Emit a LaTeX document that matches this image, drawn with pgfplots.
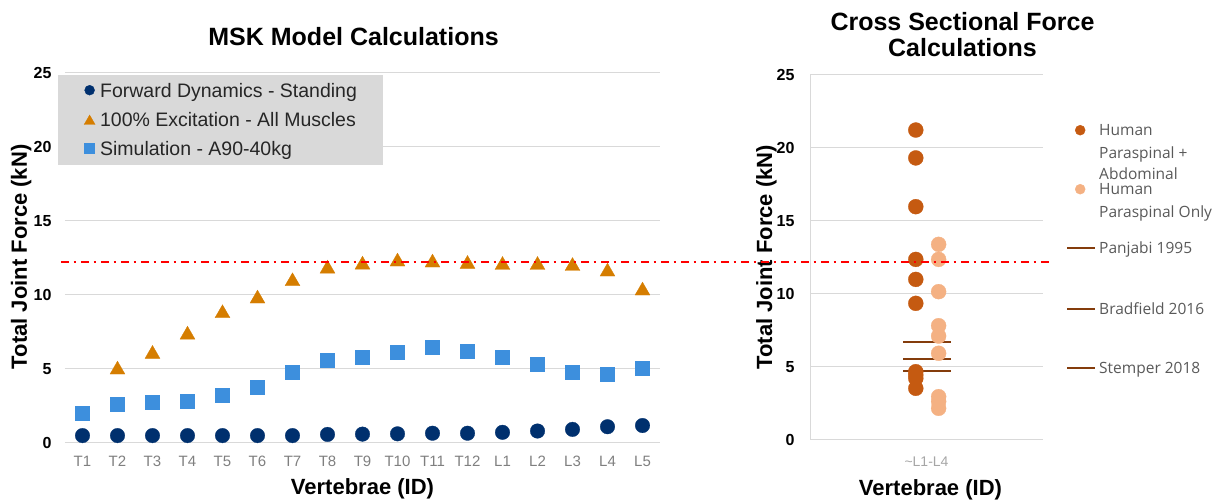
\documentclass[border=0pt]{standalone}
\usepackage{pgfplots}
\pgfplotsset{compat=1.18}
\usepackage{fontspec}
\setmainfont{Liberation Sans}
\newfontfamily\osans{Open Sans}
\definecolor{navy}{HTML}{00306E}
\definecolor{orng}{HTML}{D57D00}
\definecolor{sky}{HTML}{3D8FDD}
\definecolor{dorng}{HTML}{C55A11}
\definecolor{lorng}{HTML}{F4B183}
\definecolor{brwn}{HTML}{843C0C}
\definecolor{gridg}{HTML}{D9D9D9}
\definecolor{legg}{HTML}{D9D9D9}
\definecolor{tickg}{HTML}{7F7F7F}
\definecolor{tickl}{HTML}{A6A6A6}
\definecolor{txtg}{HTML}{595959}
\definecolor{legtxt}{HTML}{262626}
\pgfplotsset{
 legmark/.style={legend image code/.code={\draw[##1,mark size=#1] plot coordinates {(5pt,7pt)};}},
 rlegmark/.style={legend image code/.code={\draw[##1] plot coordinates {(13pt,5pt)};}},
 rlegline/.style={legend image code/.code={\draw[##1] (0pt,5pt) -- (28pt,5pt);}},
 rlegempty/.style={legend image code/.code={\path[draw=none,fill=none] (0pt,5pt) -- (28pt,5pt);}},
}
\newcommand\RB[3]{\raisebox{0pt}[#1][#2]{#3}}

\pgfplotstableread{
x y
0 0.50
1 0.50
2 0.50
3 0.50
4 0.50
5 0.50
6 0.50
7 0.58
8 0.60
9 0.62
10 0.66
11 0.66
12 0.72
13 0.81
14 0.92
15 1.10
16 1.18
}\fwd
\pgfplotstableread{
x y
1 5.09
2 6.15
3 7.45
4 8.90
5 9.89
6 11.06
7 11.91
8 12.18
9 12.39
10 12.32
11 12.23
12 12.16
13 12.16
14 12.09
15 11.71
16 10.43
}\exc
\pgfplotstableread{
x y
0 2.03
1 2.64
2 2.75
3 2.82
4 3.20
5 3.78
6 4.78
7 5.63
8 5.83
9 6.16
10 6.49
11 6.22
12 5.77
13 5.31
14 4.77
15 4.64
16 5.04
}\sim
\pgfplotstableread{
x y
-0.046 21.23
-0.046 19.32
-0.046 15.98
-0.046 12.37
-0.046 11.00
-0.046 9.36
-0.046 4.68
-0.046 4.45
-0.046 4.22
-0.046 3.54
}\hpa
\pgfplotstableread{
x y
0.052 13.40
0.052 12.37
0.052 10.16
0.052 7.83
0.052 7.12
0.052 5.94
0.052 2.97
0.052 2.63
0.052 2.17
}\hpo

\begin{document}
\begin{tikzpicture}
\useasboundingbox (0pt,0pt) rectangle (1223pt,500pt);
\begin{axis}[
 name=left, at={(65pt,57pt)}, anchor=south west, scale only axis,
 width=595pt, height=370pt,
 xmin=-0.5, xmax=16.5, ymin=0, ymax=25,
 xtick={0,...,16},
 xticklabels={T1,T2,T3,T4,T5,T6,T7,T8,T9,T10,T11,T12,L1,L2,L3,L4,L5},
 ytick={0,5,10,15,20,25},
 /pgf/number format/assume math mode=true,
 axis lines*=left,
 x axis line style={draw=gridg, line width=1pt},
 y axis line style={draw=none},
 ymajorgrids, major grid style={draw=gridg, line width=1pt},
 major tick length=0pt, tick style={draw=none},
 yticklabel style={font=\bfseries\fontsize{16}{16}\selectfont, text=black, anchor=east, xshift=-10pt},
 xticklabel style={font=\fontsize{15}{15}\selectfont, text=tickg, anchor=base, yshift=-24pt},
 title={MSK Model Calculations},
 title style={at={(axis description cs:0.485,1.0568)}, anchor=south, inner sep=0pt, font=\bfseries\fontsize{25}{25}\selectfont},
 xlabel={Vertebrae (ID)},
 xlabel style={at={(axis description cs:0.5,-0.1405)}, anchor=base, font=\bfseries\fontsize{22}{22}\selectfont},
 ylabel={Total Joint Force (kN)},
 ylabel style={at={(axis description cs:-0.0639,0.503)}, anchor=base, font=\bfseries\fontsize{22}{22}\selectfont},
 legend style={at={(axis description cs:-0.0118,0.9946)}, anchor=north west,
   fill=legg, draw=none, inner xsep=26pt, inner ysep=6pt, row sep=9.6pt, column sep=5pt,
   font=\fontsize{19.5}{19.5}\selectfont, text=legtxt, cells={anchor=base west},
   nodes={text height=16pt, text depth=3.4pt, inner sep=0pt}},
]
\addplot[only marks, mark=*, mark size=7.3pt, color=navy, line width=0.3pt, legmark=5pt] table[x=x,y=y]{\fwd};
\addlegendentry{Forward Dynamics - Standing}
\addplot[only marks, mark=triangle*, mark size=8.6pt, color=orng, line width=0.3pt, mark options={yshift=-2.1pt}, legmark=6.3pt] table[x=x,y=y]{\exc};
\addlegendentry{100\% Excitation - All Muscles}
\addplot[only marks, mark=square*, mark size=7pt, color=sky, line width=0.3pt, legmark=5pt] table[x=x,y=y]{\sim};
\addlegendentry{Simulation - A90-40kg}
\coordinate (rl) at (axis cs:-0.614,12.2);
\end{axis}

\begin{axis}[
 name=right, at={(810pt,60pt)}, anchor=south west, scale only axis,
 width=233pt, height=365pt,
 xmin=-0.5, xmax=0.5, ymin=0, ymax=25,
 xtick={0}, xticklabels={\textasciitilde L1-L4},
 ytick={0,5,10,15,20,25},
 /pgf/number format/assume math mode=true,
 axis lines*=left,
 axis line style={draw=gridg, line width=1pt},
 ymajorgrids, major grid style={draw=gridg, line width=1pt},
 major tick length=0pt, tick style={draw=none},
 yticklabel style={font=\bfseries\fontsize{16}{16}\selectfont, text=black, anchor=east, xshift=-12pt},
 xticklabel style={font=\fontsize{14}{14}\selectfont, text=tickl, anchor=base, yshift=-27pt},
 title={Cross Sectional Force\\Calculations},
 title style={align=center, at={(axis description cs:0.6545,1.033)}, anchor=south, inner sep=0pt, font=\bfseries\fontsize{25}{26.5}\selectfont},
 xlabel={Vertebrae (ID)},
 xlabel style={at={(axis description cs:0.517,-0.1507)}, anchor=base, font=\bfseries\fontsize{22}{22}\selectfont},
 ylabel={Total Joint Force (kN)},
 ylabel style={at={(axis description cs:-0.163,0.501)}, anchor=base, font=\bfseries\fontsize{22}{22}\selectfont},
 legend style={at={(axis description cs:1.0987,0.863)}, anchor=north west,
   fill=none, draw=none, inner sep=0pt, row sep=0pt, column sep=3pt,
   font=\osans\fontsize{15.5}{15.5}\selectfont, text=txtg, cells={anchor=base west},
   nodes={inner sep=0pt, text depth=, text height=}},
]
\addplot[only marks, mark=*, mark size=7.5pt, color=dorng, line width=0.3pt, forget plot] table[x=x,y=y]{\hpa};
\addplot[only marks, mark=*, mark size=7.5pt, color=lorng, line width=0.3pt, forget plot] table[x=x,y=y]{\hpo};
\addplot[brwn, line width=2pt, forget plot] coordinates {(-0.1,6.69) (0.105,6.69)};
\addplot[brwn, line width=2pt, forget plot] coordinates {(-0.1,5.53) (0.105,5.53)};
\addplot[brwn, line width=2pt, forget plot] coordinates {(-0.1,4.73) (0.105,4.73)};
\addlegendimage{rlegmark, only marks, mark=*, mark size=5pt, color=dorng}
\addlegendentry{\RB{10pt}{13pt}{Human}}
\addlegendimage{rlegempty}
\addlegendentry{\RB{10pt}{11pt}{Paraspinal +}}
\addlegendimage{rlegempty}
\addlegendentry{\RB{10pt}{5pt}{Abdominal}}
\addlegendimage{rlegmark, only marks, mark=*, mark size=5pt, color=lorng}
\addlegendentry{\RB{10pt}{13pt}{Human}}
\addlegendimage{rlegempty}
\addlegendentry{\RB{10pt}{26pt}{Paraspinal Only}}
\addlegendimage{rlegline, brwn, line width=2pt}
\addlegendentry{\RB{10pt}{51pt}{Panjabi 1995}}
\addlegendimage{rlegline, brwn, line width=2pt}
\addlegendentry{\RB{10pt}{49pt}{Bradfield 2016}}
\addlegendimage{rlegline, brwn, line width=2pt}
\addlegendentry{\RB{10pt}{3pt}{Stemper 2018}}
\coordinate (rr) at (axis cs:0.526,12.2);
\end{axis}
\draw[red, line width=2pt, dash pattern=on 7.5pt off 5pt on 2.5pt off 5pt] (rl) -- (rl -| rr);
\end{tikzpicture}
\end{document}
